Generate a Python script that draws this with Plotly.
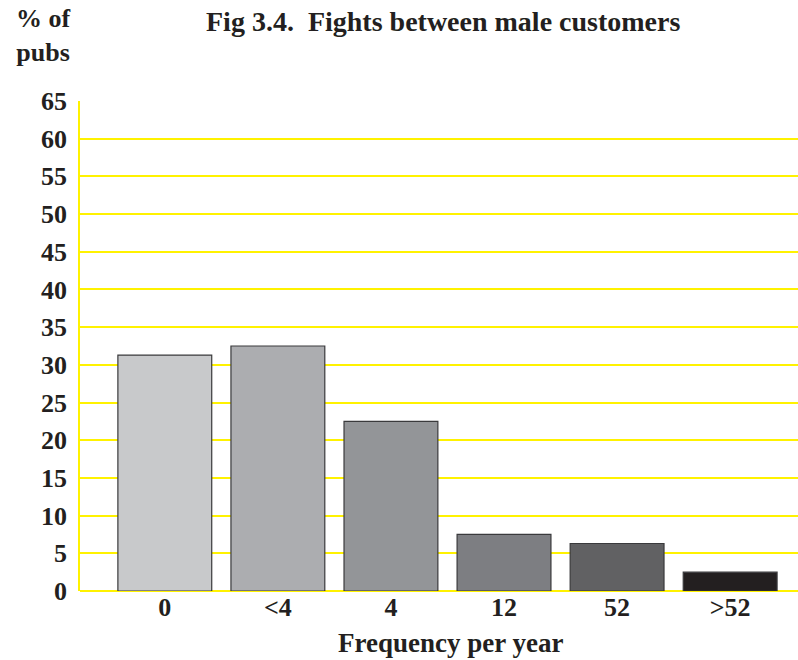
import plotly.graph_objects as go

categories = ["0", "<4", "4", "12", "52", ">52"]
values = [31.3, 32.5, 22.5, 7.5, 6.3, 2.5]
bar_colors = ["#c8c9cb", "#acadb0", "#939598", "#7d7e82", "#616163", "#231f20"]
y_ticks = list(range(0, 70, 5))

FONT = "Liberation Serif"
TXT = "#231f20"
YEL = "#fff200"

fig = go.Figure()
fig.add_trace(go.Bar(
    x=list(range(len(categories))),
    y=values,
    marker=dict(color=bar_colors, line=dict(color="#3a3a3c", width=1.2)),
    width=0.83,
))

L, R, T, B = 80, 0, 101, 69
W, H = 798, 660

fig.update_layout(
    width=W, height=H,
    margin=dict(l=L, r=R, t=T, b=B, autoexpand=False),
    paper_bgcolor="white", plot_bgcolor="white",
    showlegend=False,
    font=dict(family=FONT, color=TXT, size=24, weight="bold"),
    xaxis=dict(
        range=[-0.75, 5.6],
        tickmode="array",
        tickvals=list(range(len(categories))),
        ticktext=categories,
        showgrid=False, zeroline=False,
        showline=False, ticks="", ticklabelstandoff=-2,
        automargin=False,
        tickfont=dict(family=FONT, size=26, color=TXT, weight="bold"),
    ),
    yaxis=dict(
        range=[0, 65],
        tickmode="array",
        tickvals=y_ticks,
        ticktext=[str(v) for v in y_ticks],
        showgrid=True, gridcolor=YEL, gridwidth=1.6,
        zeroline=True, zerolinecolor=YEL, zerolinewidth=1.6,
        showline=True, linecolor=YEL, linewidth=1.6,
        ticks="", ticklabelstandoff=6,
        automargin=False,
        tickfont=dict(family=FONT, size=26, color=TXT, weight="bold"),
    ),
)

pw = W - L - R
ph = H - T - B
def px(x):
    return (x - L) / pw
def py(y):
    return (H - B - y) / ph

fig.layout.annotations = [
    dict(text="Fig 3.4.  Fights between male customers", x=px(443), y=py(21),
         xref="paper", yref="paper", showarrow=False, xanchor="center", yanchor="middle",
         font=dict(family=FONT, size=28, color=TXT, weight="bold")),
    dict(text="% of<br>pubs", x=px(43), y=py(36),
         xref="paper", yref="paper", showarrow=False, xanchor="center", yanchor="middle",
         align="center",
         font=dict(family=FONT, size=26, color=TXT, weight="bold")),
    dict(text="Frequency per year", x=px(450), y=py(643),
         xref="paper", yref="paper", showarrow=False, xanchor="center", yanchor="middle",
         font=dict(family=FONT, size=27, color=TXT, weight="bold")),
]

fig.write_html("out.html", config={"displayModeBar": False},
               post_script="document.body.style.margin='0px';")
